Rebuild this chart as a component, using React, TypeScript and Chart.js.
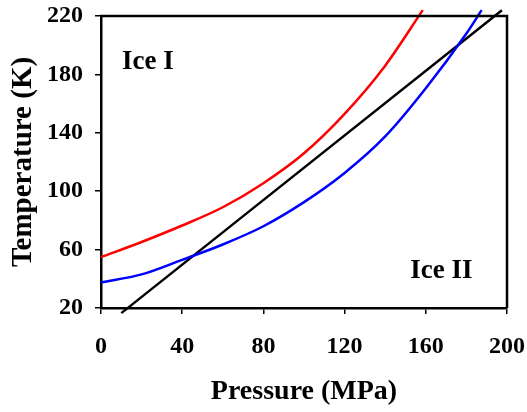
import React, { useEffect, useRef } from "react";
import { Chart, registerables } from "chart.js";

Chart.register(...registerables);

const redP = [0, 20, 40, 60, 80, 100, 120, 140, 158.5];
const redT = [54.8, 65.2, 76.5, 89, 105.5, 126, 153, 186, 224];

const blueP = [0, 20, 40, 60, 80, 100, 120, 140, 160, 180, 187.5];
const blueT = [37.5, 43, 53, 63.5, 76, 92.5, 112.5, 137.5, 170.5, 208, 224];

const blackP = [10, 197.5];
const blackT = [16.5, 224];

const xTicks = [0, 40, 80, 120, 160, 200];
const yTicks = [20, 60, 100, 140, 180, 220];

const regionLabels = ["Ice I", "Ice II"];
const regionP = [10.3, 152.3];
const regionT = [183.7, 40.5];

const xTitle = "Pressure (MPa)";
const yTitle = "Temperature (K)";

const FONT = "'Liberation Serif', 'Times New Roman', serif";

const toXY = (xs: number[], ys: number[]) => xs.map((x, i) => ({ x, y: ys[i] }));

const framePlugin = {
  id: "frame",
  afterDatasetsDraw(chart: any) {
    const { ctx, chartArea } = chart;
    ctx.save();
    ctx.strokeStyle = "#000";
    ctx.lineWidth = 2.5;
    ctx.beginPath();
    ctx.moveTo(chartArea.left - 1, chartArea.top);
    ctx.lineTo(chartArea.right, chartArea.top);
    ctx.lineTo(chartArea.right, chartArea.bottom);
    ctx.stroke();
    ctx.restore();
  },
};

const labelsPlugin = {
  id: "regionLabels",
  afterDraw(chart: any) {
    const { ctx, scales } = chart;
    ctx.save();
    ctx.fillStyle = "#000";
    ctx.font = `bold 27px ${FONT}`;
    ctx.textAlign = "left";
    ctx.textBaseline = "alphabetic";
    regionLabels.forEach((t, i) => {
      ctx.fillText(t, scales.x.getPixelForValue(regionP[i]), scales.y.getPixelForValue(regionT[i]));
    });
    ctx.restore();
  },
};

export default function App() {
  const ref = useRef<HTMLCanvasElement>(null);
  useEffect(() => {
    document.body.style.margin = "0";
    const canvas = ref.current;
    if (!canvas) return;
    const lineDs = (label: string, xs: number[], ys: number[], color: string) => ({
      label,
      data: toXY(xs, ys),
      borderColor: color,
      backgroundColor: color,
      borderWidth: 2.5,
      pointRadius: 0,
      fill: false,
      clip: false as any,
      cubicInterpolationMode: "monotone" as const,
    });
    const chart = new Chart(canvas, {
      type: "line",
      data: {
        datasets: [
          lineDs("red", redP, redT, "#ff0000"),
          lineDs("blue", blueP, blueT, "#0000ff"),
          lineDs("black", blackP, blackT, "#000000"),
        ],
      },
      options: {
        responsive: false,
        animation: false,
        layout: { padding: { left: 0, top: 16, right: 20, bottom: 0 } },
        plugins: { legend: { display: false }, tooltip: { enabled: false } },
        scales: {
          x: {
            type: "linear",
            min: 0,
            max: 200,
            afterBuildTicks: (s: any) => {
              s.ticks = xTicks.map((v) => ({ value: v }));
            },
            afterFit: (s: any) => {
              s.height = 104;
              s.paddingLeft = 0;
              s.paddingRight = 0;
            },
            ticks: {
              color: "#000",
              font: { family: FONT, size: 24, weight: "bold" },
              padding: 18,
              maxRotation: 0,
            },
            grid: {
              drawOnChartArea: false,
              drawTicks: true,
              tickLength: 6,
              color: "#000",
              lineWidth: 1.5,
            },
            border: { color: "#000", width: 2.5 },
            title: {
              display: true,
              text: xTitle,
              color: "#000",
              font: { family: FONT, size: 28, weight: "bold" },
              padding: { top: 0, bottom: 3 },
            },
          },
          y: {
            type: "linear",
            min: 20,
            max: 220,
            afterBuildTicks: (s: any) => {
              s.ticks = yTicks.map((v) => ({ value: v }));
            },
            afterFit: (s: any) => {
              s.width = 101;
              s.paddingTop = 0;
              s.paddingBottom = 0;
            },
            ticks: {
              color: "#000",
              font: { family: FONT, size: 24, weight: "bold" },
              padding: 12,
            },
            grid: {
              drawOnChartArea: false,
              drawTicks: true,
              tickLength: 6,
              color: "#000",
              lineWidth: 1.5,
            },
            border: { color: "#000", width: 2.5 },
            title: {
              display: true,
              text: yTitle,
              color: "#000",
              font: { family: FONT, size: 29, weight: "bold" },
              padding: { top: 6, bottom: 0 },
            },
          },
        },
      },
      plugins: [framePlugin, labelsPlugin],
    });
    return () => chart.destroy();
  }, []);
  return (
    <div style={{ width: 527, height: 412 }}>
      <canvas ref={ref} width={527} height={412} style={{ display: "block" }} />
    </div>
  );
}
